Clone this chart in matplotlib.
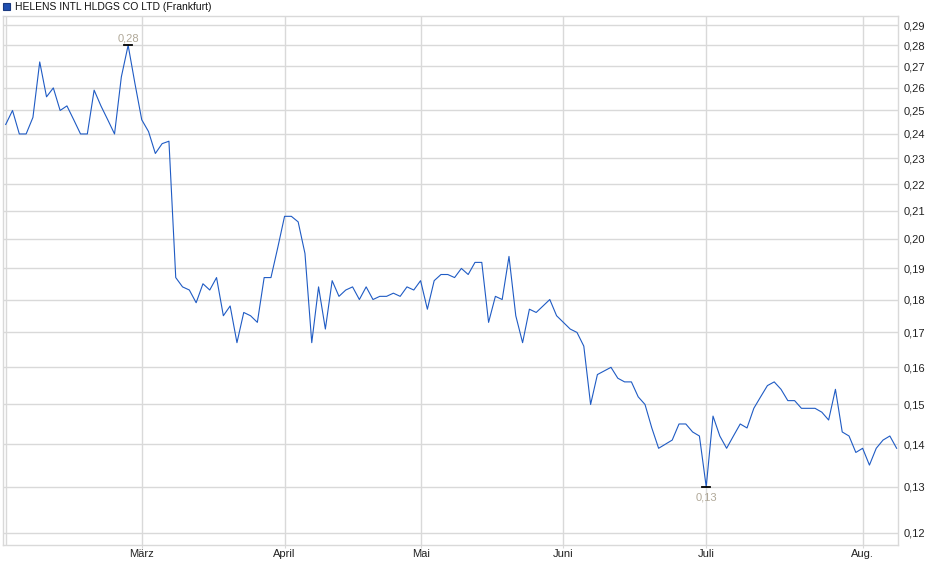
import numpy as np
import matplotlib.pyplot as plt
from matplotlib.ticker import FixedLocator, NullLocator

plt.rcParams['font.family'] = ['Liberation Sans', 'DejaVu Sans']

kurse = [
    0.244, 0.250, 0.240, 0.240, 0.247, 0.272, 0.256, 0.260, 0.250, 0.252,
    0.246, 0.240, 0.240, 0.259, 0.252, 0.246, 0.240, 0.265, 0.280, 0.262,
    0.246, 0.241, 0.232, 0.236, 0.237, 0.187, 0.184, 0.183, 0.179, 0.185,
    0.183, 0.187, 0.175, 0.178, 0.167, 0.176, 0.175, 0.173, 0.187, 0.187,
    0.197, 0.208, 0.208, 0.206, 0.195, 0.167, 0.184, 0.171, 0.186, 0.181,
    0.183, 0.184, 0.180, 0.184, 0.180, 0.181, 0.181, 0.182, 0.181, 0.184,
    0.183, 0.186, 0.177, 0.186, 0.188, 0.188, 0.187, 0.190, 0.188, 0.192,
    0.192, 0.173, 0.181, 0.180, 0.194, 0.175, 0.167, 0.177, 0.176, 0.178,
    0.180, 0.175, 0.173, 0.171, 0.170, 0.166, 0.150, 0.158, 0.159, 0.160,
    0.157, 0.156, 0.156, 0.152, 0.150, 0.144, 0.139, 0.140, 0.141, 0.145,
    0.145, 0.143, 0.142, 0.130, 0.147, 0.142, 0.139, 0.142, 0.145, 0.144,
    0.149, 0.152, 0.155, 0.156, 0.154, 0.151, 0.151, 0.149, 0.149, 0.149,
    0.148, 0.146, 0.154, 0.143, 0.142, 0.138, 0.139, 0.135, 0.139, 0.141,
    0.142, 0.139,
]

# erster Handelstag je Monat (Index)
monate = ['März', 'April', 'Mai', 'Juni', 'Juli', 'Aug.']
monat_idx = [20, 41, 61, 82, 103, 126]

y_ticks = [0.12, 0.13, 0.14, 0.15, 0.16, 0.17, 0.18, 0.19, 0.20,
           0.21, 0.22, 0.23, 0.24, 0.25, 0.26, 0.27, 0.28, 0.29]

titel = 'HELENS INTL HLDGS CO LTD (Frankfurt)'

grid_col = '#d9d9d9'
line_col = '#1f5bc4'

fig = plt.figure(figsize=(9.4, 5.79), dpi=100)
ax = fig.add_axes([3 / 940, 34 / 579, 895 / 940, 529 / 579])

x = np.arange(len(kurse))
ax.plot(x, kurse, color=line_col, lw=0.8, zorder=3)

ax.set_yscale('log')
ax.set_ylim(0.1175, 0.2946)
ax.set_xlim(-0.4, 131.2)

ax.yaxis.set_major_locator(FixedLocator(y_ticks))
ax.yaxis.set_minor_locator(NullLocator())
ax.set_yticklabels([f'{v:.2f}'.replace('.', ',') for v in y_ticks])
ax.yaxis.tick_right()

ax.set_xticks(monat_idx)
ax.set_xticklabels(monate)

ax.tick_params(axis='y', length=0, labelsize=8, pad=4, labelcolor='#222222')
ax.tick_params(axis='x', length=2, color=grid_col, labelsize=8, pad=1, labelcolor='#222222')

ax.grid(True, color=grid_col, lw=1.0, zorder=0)
ax.axvline(0, color=grid_col, lw=1.0, zorder=0)
for s in ax.spines.values():
    s.set_color(grid_col)
    s.set_linewidth(1.0)

# Hoch und Tief markieren
i_max = int(np.argmax(kurse))
i_min = int(np.argmin(kurse))
for i, dy, va in [(i_max, 0.001, 'bottom'), (i_min, -0.0012, 'top')]:
    v = kurse[i]
    ax.plot([i - 0.6, i + 0.6], [v, v], color='black', lw=1.3, zorder=4)
    ax.text(i, v + dy, f'{v:.2f}'.replace('.', ','), ha='center', va=va,
            fontsize=8, color='#b0a898', zorder=5)

# Legende oben links
fig.patches.append(plt.Rectangle((3 / 940, 1 - 10 / 579), 7 / 940, 7 / 579,
                                 transform=fig.transFigure, facecolor='#1f4fb0',
                                 edgecolor='#1a3a80', lw=0.8))
fig.text(15 / 940, 1 - 6.5 / 579, titel, fontsize=7.5, va='center', ha='left', color='#111111')

fig.savefig('out.png', dpi=100)
